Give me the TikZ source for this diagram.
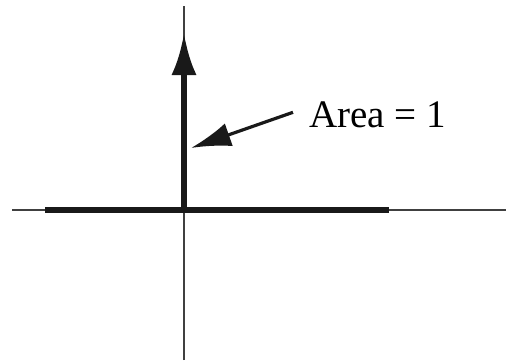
\documentclass[tikz,border=0pt]{standalone}
\usepackage{fontspec}
\setmainfont{Liberation Serif}
\usetikzlibrary{arrows.meta}
\begin{document}
\begin{tikzpicture}[
  x=1pt, y=-1pt,
  axis/.style={line width=1.4pt, black!75},
  pulse/.style={line width=6pt, black!90},
  arr/.style={-{Latex[length=42pt,width=25pt]}, line width=6pt, black!90},
  pointer/.style={-{Latex[length=40pt,width=24pt]}, line width=3.2pt, black!90},
  lbl/.style={font=\fontsize{39}{39}\selectfont, inner sep=0pt},
]
  \useasboundingbox (0,0) rectangle (506,364);
  % axes
  \coordinate (o) at (184,210);
  \coordinate (top) at (184,6);
  \coordinate (bot) at (184,360);
  \coordinate (left) at (12,210);
  \coordinate (right) at (506,210);
  \draw[axis] (left) -- (right);
  \draw[axis] (bot) -- (top);

  % impulse
  \coordinate (a) at (45,210);
  \coordinate (b) at (389,210);
  \coordinate (tip) at (184,33);
  \draw[pulse] (a) -- (b);
  \draw[arr] (o) -- (tip);

  % label
  \node[lbl, anchor=base west] (area) at (309,127) {Area = 1};
  \coordinate (p) at (191,148);
  \draw[pointer] ([xshift=-16pt,yshift=2pt]area.west) -- (p);
\end{tikzpicture}
\end{document}
